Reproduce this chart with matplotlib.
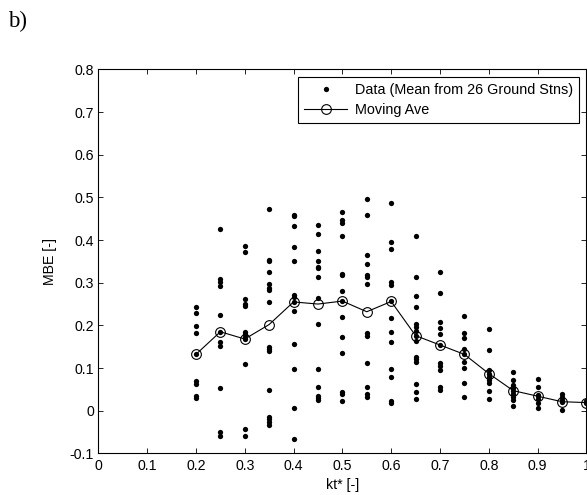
import matplotlib
matplotlib.use("Agg")
import matplotlib.pyplot as plt
from matplotlib.lines import Line2D
from matplotlib.ticker import FuncFormatter, MultipleLocator

plt.rcParams['font.family'] = ['Liberation Sans', 'DejaVu Sans']
plt.rcParams['axes.unicode_minus'] = False

# kt* bins
kt_bins = [0.2, 0.25, 0.3, 0.35, 0.4, 0.45, 0.5, 0.55, 0.6, 0.65, 0.7, 0.75, 0.8, 0.85, 0.9, 0.95, 1.0]

# Data (Mean from 26 Ground Stns), MBE values per bin
mbe_02 = [0.243, 0.230, 0.199, 0.182, 0.132, 0.070, 0.062, 0.034, 0.029]
mbe_025 = [0.425, 0.308, 0.301, 0.292, 0.225, 0.185, 0.160, 0.152, 0.054, -0.051, -0.059]
mbe_03 = [0.386, 0.373, 0.263, 0.249, 0.245, 0.185, 0.179, 0.173, 0.167, 0.109, -0.044, -0.059]
mbe_035 = [0.473, 0.354, 0.350, 0.325, 0.296, 0.288, 0.284, 0.254, 0.150, 0.144, 0.139, 0.048,
           -0.014, -0.020, -0.026, -0.034]
mbe_04 = [0.459, 0.456, 0.432, 0.383, 0.351, 0.272, 0.266, 0.255, 0.233, 0.157, 0.098, 0.006, -0.067]
mbe_045 = [0.436, 0.415, 0.375, 0.351, 0.338, 0.334, 0.314, 0.264, 0.204, 0.098, 0.056, 0.034,
           0.030, 0.026]
mbe_05 = [0.467, 0.446, 0.439, 0.409, 0.321, 0.319, 0.280, 0.257, 0.220, 0.172, 0.135, 0.044,
          0.039, 0.023]
mbe_055 = [0.496, 0.459, 0.365, 0.344, 0.318, 0.313, 0.296, 0.181, 0.175, 0.112, 0.056, 0.039, 0.033]
mbe_06 = [0.488, 0.396, 0.380, 0.301, 0.295, 0.256, 0.217, 0.185, 0.160, 0.098, 0.078, 0.022, 0.018]
mbe_065 = [0.409, 0.314, 0.270, 0.243, 0.204, 0.196, 0.187, 0.176, 0.164, 0.126, 0.121, 0.115,
           0.062, 0.044, 0.027]
mbe_07 = [0.325, 0.277, 0.209, 0.193, 0.180, 0.154, 0.111, 0.104, 0.095, 0.056, 0.048]
mbe_075 = [0.222, 0.181, 0.170, 0.145, 0.132, 0.115, 0.099, 0.065, 0.033]
mbe_08 = [0.191, 0.143, 0.095, 0.087, 0.079, 0.072, 0.064, 0.046, 0.027]
mbe_085 = [0.090, 0.073, 0.060, 0.053, 0.047, 0.038, 0.031, 0.025, 0.012]
mbe_09 = [0.075, 0.056, 0.037, 0.034, 0.027, 0.017, 0.007]
mbe_095 = [0.039, 0.031, 0.025, 0.021, 0.001]
mbe_10 = [0.022, 0.019]

data_cols = [mbe_02, mbe_025, mbe_03, mbe_035, mbe_04, mbe_045, mbe_05, mbe_055, mbe_06,
             mbe_065, mbe_07, mbe_075, mbe_08, mbe_085, mbe_09, mbe_095, mbe_10]

# Moving average
moving_ave = [0.132, 0.185, 0.168, 0.202, 0.255, 0.250, 0.257, 0.232, 0.256,
              0.176, 0.154, 0.132, 0.087, 0.047, 0.034, 0.021, 0.019]

fig = plt.figure(figsize=(5.87, 4.95), dpi=100)
ax = fig.add_axes([0.1675, 0.0842, 0.8315, 0.7754])

xs, ys = [], []
for k, col in zip(kt_bins, data_cols):
    for v in col:
        xs.append(k)
        ys.append(v)
ax.plot(xs, ys, linestyle='none', marker='o', markersize=3.8, color='black',
        markeredgewidth=0, zorder=3)
ax.plot(kt_bins, moving_ave, color='black', linewidth=0.8, marker='o', markersize=7,
        markerfacecolor='none', markeredgecolor='black', markeredgewidth=0.8, zorder=4)

ax.set_xlim(0, 1)
ax.set_ylim(-0.1, 0.8)
ax.xaxis.set_major_locator(MultipleLocator(0.1))
ax.yaxis.set_major_locator(MultipleLocator(0.1))
fmt = FuncFormatter(lambda v, p: f"{round(v, 2):g}")
ax.xaxis.set_major_formatter(fmt)
ax.yaxis.set_major_formatter(fmt)
ax.tick_params(direction='in', top=True, right=True, length=3.5, width=0.6,
               labelsize=10.2)
ax.tick_params(axis='x', pad=4)
ax.tick_params(axis='y', pad=3)
for s in ax.spines.values():
    s.set_linewidth(0.8)

ax.set_xlabel('kt* [-]', fontsize=10.2, labelpad=4)
ax.set_ylabel('MBE [-]', fontsize=10.2, labelpad=9)

handles = [Line2D([], [], linestyle='none', marker='o', markersize=3.8, color='black',
                  markeredgewidth=0),
           Line2D([], [], color='black', linewidth=0.8, marker='o', markersize=7,
                  markerfacecolor='none', markeredgecolor='black', markeredgewidth=0.8)]
leg = ax.legend(handles, ['Data (Mean from 26 Ground Stns)', 'Moving Ave'],
                loc='upper right', fontsize=10.4, frameon=True, fancybox=False,
                edgecolor='black', framealpha=1, handlelength=3.0, handletextpad=0.5,
                borderpad=0.45, labelspacing=0.4, borderaxespad=0.5)
leg.get_frame().set_linewidth(0.8)

fig.text(8 / 587, 1 - 27 / 495, 'b)', fontsize=16.5, family=['Liberation Serif', 'DejaVu Serif'],
         ha='left', va='baseline')

fig.savefig('out.png', dpi=100)
